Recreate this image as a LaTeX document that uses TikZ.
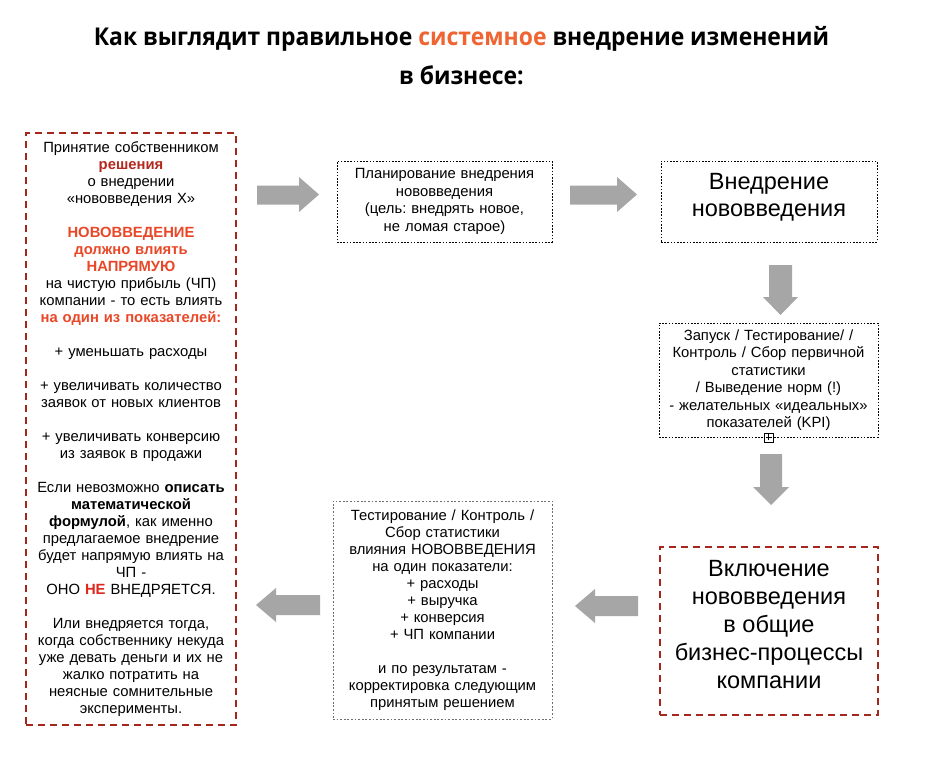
\documentclass[tikz,border=0pt]{standalone}
\usepackage{fontspec}
\setmainfont{Liberation Sans}
\newfontfamily\titlefont[FakeStretch=0.935]{Open Sans}
\frenchspacing
\definecolor{orng}{RGB}{240,100,50}
\definecolor{rbox}{RGB}{165,38,28}
\definecolor{rdark}{RGB}{180,40,30}
\definecolor{rtxt}{RGB}{232,72,40}
\definecolor{rne}{RGB}{222,40,30}
\definecolor{arrgray}{RGB}{166,166,166}
\definecolor{dotgray}{RGB}{110,110,110}
\begin{document}
\begin{tikzpicture}[x=1pt,y=-1pt,
  redbox/.style={draw=rbox, line width=2.6pt, dash pattern=on 7pt off 5pt, align=center, inner sep=0pt},
  dotbox/.style={draw=black, line width=0.8pt, dash pattern=on 1.6pt off 1.6pt, align=center, inner sep=0pt},
  graybox/.style={draw=dotgray, line width=1pt, dash pattern=on 1.8pt off 1.8pt, align=center, inner sep=0pt},
  txt/.style={font=\fontsize{14.8}{17}\selectfont},
  bigtxt/.style={font=\fontsize{23.5}{28}\selectfont},
  plain/.style={align=center, inner sep=0pt},
  blockarrow/.style={fill=arrgray, draw=none}
]
\useasboundingbox (0,0) rectangle (928,764);
\fill[white] (0,0) rectangle (928,764);

% title
\node[anchor=base, inner sep=0pt, font=\titlefont\bfseries\fontsize{24.5}{30}\selectfont] (title1) at (461.5,45)
  {Как выглядит правильное \textcolor{orng}{системное} внедрение изменений};
\node[anchor=base, inner sep=0pt, font=\titlefont\bfseries\fontsize{24.5}{30}\selectfont] (title2) at (461.5,84)
  {в бизнесе:};

% left box
\node[redbox, txt, minimum width=210pt, minimum height=592pt, text width=204pt] (left) at (131,429) {%
Принятие собственником\\
{\bfseries\color{rdark}решения}\\
о внедрении\\
«нововведения Х»\\[17pt]
{\bfseries\color{rtxt}НОВОВВЕДЕНИЕ}\\
{\bfseries\color{rtxt}должно влиять}\\
{\bfseries\color{rtxt}НАПРЯМУЮ}\\
на чистую прибыль (ЧП)\\
компании - то есть влиять\\
{\bfseries\color{rtxt}на один из показателей:}\\[17pt]
+ уменьшать расходы\\[17pt]
+ увеличивать количество\\
заявок от новых клиентов\\[17pt]
+ увеличивать конверсию\\
из заявок в продажи\\[17pt]
Если невозможно \textbf{описать}\\
\textbf{математической}\\
\textbf{формулой}, как именно\\
предлагаемое внедрение\\
будет напрямую влиять на\\
ЧП -\\
ОНО {\bfseries\color{rne}НЕ} ВНЕДРЯЕТСЯ.\\[17pt]
Или внедряется тогда,\\
когда собственнику некуда\\
уже девать деньги и их не\\
жалко потратить на\\
неясные сомнительные\\
эксперименты.};

% planning box
\node[dotbox, minimum width=215pt, minimum height=81pt, text width=207pt,
  font=\fontsize{14.8}{17.4}\selectfont] (plan) at (444.5,201.5) {%
Планирование внедрения\\
нововведения\\
(цель: внедрять новое,\\
не ломая старое)};

% implementation box
\node[dotbox, minimum width=216pt, minimum height=81pt] (impl) at (769,201.5) {};
\node[plain, font=\fontsize{23.5}{27}\selectfont] (impltext) at (769,197) {%
Внедрение\\
нововведения};

% launch box
\node[dotbox, minimum width=219pt, minimum height=114pt, text width=214pt,
  font=\fontsize{14.8}{17.5}\selectfont] (launch) at (768.5,380) {%
Запуск / Тестирование/ /\\
Контроль / Сбор первичной\\
статистики\\
/ Выведение норм (!)\\
- желательных «идеальных»\\
показателей (KPI)};

% plus marker
\node[draw=black, fill=white, line width=0.6pt, minimum size=9pt, inner sep=0pt] (plus) at (launch.south) {};
\draw[line width=0.6pt] ([yshift=-3pt]plus.center) -- ([yshift=3pt]plus.center)
  ([xshift=-3pt]plus.center) -- ([xshift=3pt]plus.center);

% inclusion box
\node[redbox, minimum width=218pt, minimum height=168pt] (incl) at (769,631) {};
\node[plain, bigtxt] (incltext) at (769,625) {%
Включение\\
нововведения\\
в общие\\
бизнес-процессы\\
компании};

% testing box
\node[graybox, txt, minimum width=219pt, minimum height=218pt, text width=214pt] (test) at (442.5,610) {%
Тестирование / Контроль /\\
Сбор статистики\\
влияния НОВОВВЕДЕНИЯ\\
на один показатели:\\
+ расходы\\
+ выручка\\
+ конверсия\\
+ ЧП компании\\[17pt]
и по результатам -\\
корректировка следующим\\
принятым решением};

% block arrows
\fill[blockarrow] (257,185.5) -- (299,185.5) -- (299,177) -- (319,194.5) -- (299,212) -- (299,204.5) -- (257,204.5) -- cycle;
\fill[blockarrow] (570,185.5) -- (617,185.5) -- (617,177) -- (637,194.5) -- (617,212) -- (617,204.5) -- (570,204.5) -- cycle;
\fill[blockarrow] (769,265) -- (792,265) -- (792,297) -- (798,297) -- (780.5,315) -- (763,297) -- (769,297) -- cycle;
\fill[blockarrow] (760,454) -- (782,454) -- (782,487) -- (789,487) -- (771,505) -- (753,487) -- (760,487) -- cycle;
\fill[blockarrow] (638,596) -- (595,596) -- (595,589) -- (575,606) -- (595,623) -- (595,616) -- (638,616) -- cycle;
\fill[blockarrow] (320,595) -- (276,595) -- (276,588) -- (256,605) -- (276,622) -- (276,615) -- (320,615) -- cycle;
\end{tikzpicture}
\end{document}
